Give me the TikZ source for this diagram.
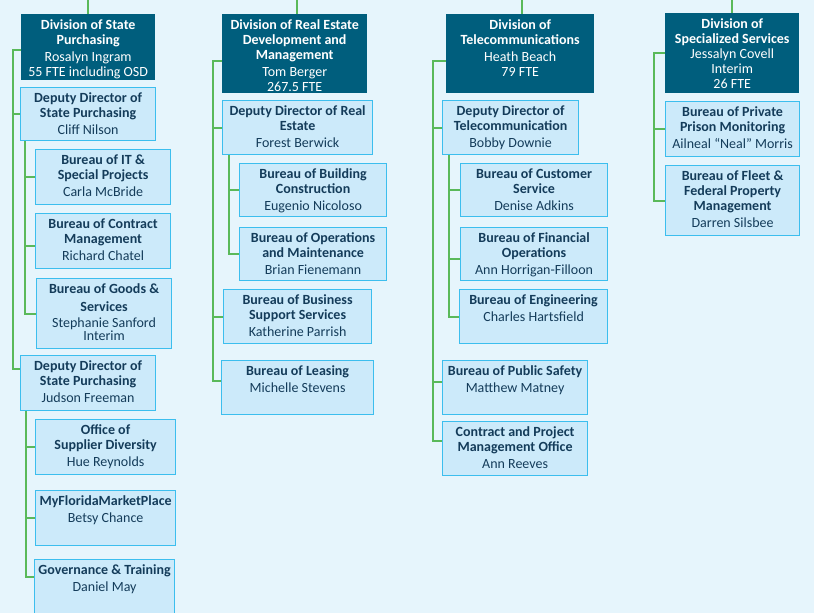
\documentclass[tikz,border=0pt]{standalone}
\usepackage{fontspec}
\setmainfont{Carlito}
\usepackage{xcolor}
\usepackage{tikz}

\definecolor{pagebg}{RGB}{230,245,252}
\definecolor{divfill}{RGB}{0,94,125}
\definecolor{unitfill}{RGB}{204,234,250}
\definecolor{unitline}{RGB}{60,190,238}
\definecolor{unittext}{RGB}{20,60,90}
\definecolor{linkgreen}{RGB}{90,185,90}

% box of fixed size, text kept at the top
\newcommand\orgtext[3]{\parbox[t][#2][t]{#1}{\centering\rule{0pt}{15pt}#3}}
\newcommand\hd[1]{{\bfseries #1}\\[2pt]}

\begin{document}
\begin{tikzpicture}[x=1pt, y=-1pt,
  %% style definitions
  division/.style = {fill=divfill, text=white, inner sep=0pt, anchor=north west,
                     font=\fontsize{14}{15}\selectfont},
  bureau/.style   = {draw=unitline, line width=1.2pt, fill=unitfill, text=unittext,
                     inner sep=0pt, anchor=north west,
                     font=\fontsize{14}{15}\selectfont},
  link/.style     = {draw=linkgreen, line width=1.8pt},
]

\path[use as bounding box, fill=pagebg] (0,0) rectangle (814,613);
\clip (0,0) rectangle (814,613);
\coordinate (pagetop) at (0,0);

%% ── State Purchasing ─────────────────────────────────────────────────────────
\node[division] (div1) at (21,14)
  {\orgtext{134pt}{66pt}{\hd{Division of State\\Purchasing}Rosalyn Ingram\\55 FTE including OSD}};
\node[bureau] (dep1a) at (20,87)
  {\orgtext{135pt}{53pt}{\hd{Deputy Director of\\State Purchasing}Cliff Nilson}};
\node[bureau] (it) at (35,149)
  {\orgtext{135pt}{55pt}{\hd{Bureau of IT \&\\Special Projects}Carla McBride}};
\node[bureau] (contract) at (35,213)
  {\orgtext{135pt}{55pt}{\hd{Bureau of Contract\\Management}Richard Chatel}};
\node[bureau] (goods) at (36,278)
  {\orgtext{135pt}{70pt}{{\bfseries Bureau of Goods \&\\[3pt]Services}\\[1pt]Stephanie Sanford\\[-2pt]Interim}};
\node[bureau] (dep1b) at (20,355)
  {\orgtext{135pt}{55pt}{\hd{Deputy Director of\\State Purchasing}Judson Freeman}};
\node[bureau] (osd) at (35,419)
  {\orgtext{140pt}{55pt}{\hd{Office of\\Supplier Diversity}Hue Reynolds}};
\node[bureau] (mfmp) at (35,490)
  {\orgtext{140pt}{55pt}{\hd{MyFloridaMarketPlace}Betsy Chance}};
\node[bureau] (gov) at (34,559)
  {\orgtext{140pt}{60pt}{\hd{Governance \& Training}Daniel May}};

%% ── Real Estate ──────────────────────────────────────────────────────────────
\node[division] (div2) at (222,14)
  {\orgtext{145pt}{79pt}{\hd{Division of Real Estate\\Development and\\Management}Tom Berger\\267.5 FTE}};
\node[bureau] (dep2) at (222,100)
  {\orgtext{150pt}{54pt}{\hd{Deputy Director of Real\\Estate}Forest Berwick}};
\node[bureau] (bldg) at (239,163)
  {\orgtext{147pt}{53pt}{\hd{Bureau of Building\\Construction}Eugenio Nicoloso}};
\node[bureau] (ops) at (239,227)
  {\orgtext{147pt}{53pt}{\hd{Bureau of Operations\\and Maintenance}Brian Fienemann}};
\node[bureau] (bss) at (223,289)
  {\orgtext{148pt}{54pt}{\hd{Bureau of Business\\Support Services}Katherine Parrish}};
\node[bureau] (leasing) at (221,360)
  {\orgtext{152pt}{54pt}{\hd{Bureau of Leasing}Michelle Stevens}};

%% ── Telecommunications ───────────────────────────────────────────────────────
\node[division] (div3) at (446,14)
  {\orgtext{148pt}{79pt}{\hd{Division of\\Telecommunications}Heath Beach\\79 FTE}};
\node[bureau] (dep3) at (442,100)
  {\orgtext{136pt}{54pt}{\hd{Deputy Director of\\Telecommunication}Bobby Downie}};
\node[bureau] (cust) at (460,163)
  {\orgtext{147pt}{53pt}{\hd{Bureau of Customer\\Service}Denise Adkins}};
\node[bureau] (fin) at (460,227)
  {\orgtext{147pt}{53pt}{\hd{Bureau of Financial\\Operations}Ann Horrigan-Filloon}};
\node[bureau] (eng) at (459,289)
  {\orgtext{148pt}{54pt}{\hd{Bureau of Engineering}Charles Hartsfield}};
\node[bureau] (ps) at (442,360)
  {\orgtext{145pt}{54pt}{\hd{Bureau of Public Safety}Matthew Matney}};
\node[bureau] (cpmo) at (442,421)
  {\orgtext{145pt}{54pt}{\hd{Contract and Project\\Management Office}Ann Reeves}};

%% ── Specialized Services ─────────────────────────────────────────────────────
\node[division] (div4) at (665,13)
  {\orgtext{134pt}{80pt}{{\bfseries Division of\\Specialized Services}\\Jessalyn Covell\\Interim\\26 FTE}};
\node[bureau] (ppm) at (665,101)
  {\orgtext{134pt}{55pt}{\hd{Bureau of Private\\Prison Monitoring}Ailneal “Neal” Morris}};
\node[bureau] (fleet) at (665,165)
  {\orgtext{134pt}{70pt}{\hd{Bureau of Fleet \&\\Federal Property\\Management}Darren Silsbee}};

%% ── Lines from above ─────────────────────────────────────────────────────────
\draw[link] (div1.north |- pagetop) -- (div1.north);
\draw[link] ([xshift=2pt]div2.north |- pagetop) -- ([xshift=2pt]div2.north);
\draw[link] ([xshift=2pt]div3.north |- pagetop) -- ([xshift=2pt]div3.north);
\draw[link] (div4.north |- pagetop) -- (div4.north);

%% ── Spines ───────────────────────────────────────────────────────────────────
\draw[link] ([yshift=-3pt]div1.west) -- ++(-8,0) |- ([yshift=14.5pt]dep1b.west);
\draw[link] ([yshift=-3pt]div1.west) ++(-8,0) |- (dep1a.west);
\draw[link] ([xshift=5pt]dep1a.south west) |- (goods.west);
\draw[link] ([xshift=5pt]dep1a.south west) |- (it.west);
\draw[link] ([xshift=5pt]dep1a.south west) |- ([yshift=-5pt]contract.west);
\draw[link] ([xshift=6pt]dep1b.south west) |- ([yshift=13pt]gov.west);
\draw[link] ([xshift=6pt]dep1b.south west) |- (osd.west);
\draw[link] ([xshift=6pt]dep1b.south west) |- (mfmp.west);

\draw[link] ([yshift=-7.5pt]div2.west) -- ++(-9,0) |- ([yshift=7pt]leasing.west);
\draw[link] ([yshift=-7.5pt]div2.west) ++(-9,0) |- (dep2.west);
\draw[link] ([yshift=-7.5pt]div2.west) ++(-9,0) |- (bss.west);
\draw[link] ([xshift=7pt]dep2.south west) |- (ops.west);
\draw[link] ([xshift=7pt]dep2.south west) |- (bldg.west);

\draw[link] ([yshift=-7.5pt]div3.west) -- ++(-13,0) |- ([yshift=8pt]cpmo.west);
\draw[link] ([yshift=-7.5pt]div3.west) ++(-13,0) |- (dep3.west);
\draw[link] ([yshift=-7.5pt]div3.west) ++(-13,0) |- ([yshift=6pt]ps.west);
\draw[link] ([xshift=7pt]dep3.south west) |- (eng.west);
\draw[link] ([xshift=7pt]dep3.south west) |- (cust.west);
\draw[link] ([xshift=7pt]dep3.south west) |- ([yshift=-4.5pt]fin.west);

\draw[link] (div4.west) -- ++(-11,0) |- (fleet.west);
\draw[link] (div4.west) ++(-11,0) |- (ppm.west);

\end{tikzpicture}
\end{document}
